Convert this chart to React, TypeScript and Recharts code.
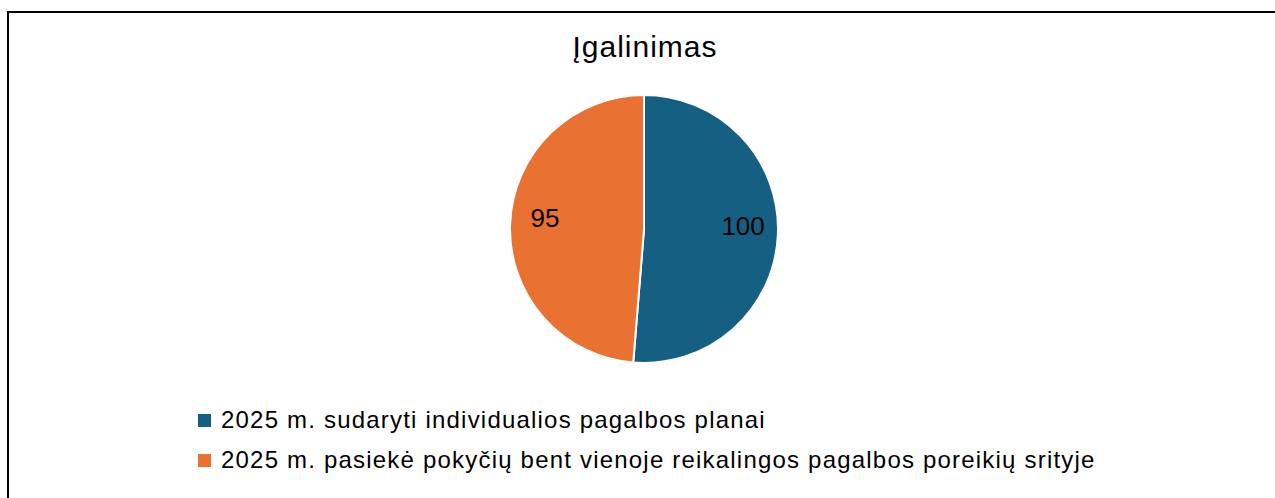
import React from 'react';
import { PieChart, Pie, Cell, Legend } from 'recharts';

const categories = [
    '2025 m. sudaryti individualios pagalbos planai',
    '2025 m. pasiekė pokyčių bent vienoje reikalingos pagalbos poreikių srityje',
];
const values = [100, 95];
const colors = ['#156082', '#E97132'];

const data = categories.map((name, i) => ({ name, value: values[i] }));

const FONT = '"Liberation Sans", Arial, sans-serif';
const RADIAN = Math.PI / 180;

// eslint-disable-next-line @typescript-eslint/no-explicit-any
const renderLabel = (props: any) => {
    const { cx, cy, midAngle, outerRadius, value } = props;
    const r = outerRadius * 0.74;
    const x = cx + r * Math.cos(-midAngle * RADIAN);
    const y = cy + r * Math.sin(-midAngle * RADIAN) - 7;
    return (
        <text x={x} y={y} fill="#000" textAnchor="middle" dominantBaseline="central" fontSize={26} fontFamily={FONT}>
            {value}
        </text>
    );
};

// legend keeps the data order (recharts would sort it otherwise)
const renderLegend = () => (
    <div style={{ fontFamily: FONT, fontSize: 24, letterSpacing: 1.2, color: '#000' }}>
        {data.map((d, i) => (
            <div key={d.name} style={{ display: 'flex', alignItems: 'center', height: 40 }}>
                <span style={{ width: 13, height: 13, background: colors[i], marginRight: 10, display: 'inline-block', flex: 'none' }} />
                <span style={{ whiteSpace: 'nowrap' }}>{d.name}</span>
            </div>
        ))}
    </div>
);

export default function App() {
    return (
        <div style={{ position: 'fixed', left: 0, top: 0, width: 1275, height: 498, overflow: 'hidden', background: '#fff' }}>
            <div style={{ position: 'absolute', left: 7, top: 11, width: 1400, height: 600, border: '2px solid #000' }} />
            <div style={{ position: 'absolute', left: 0, top: 30, width: 1290, textAlign: 'center', fontFamily: FONT, fontSize: 30, letterSpacing: 1, color: '#000' }}>
                Įgalinimas
            </div>
            <div style={{ position: 'absolute', left: 0, top: 0 }}>
                <PieChart width={1275} height={498} margin={{ top: 0, right: 0, bottom: 0, left: 0 }}>
                    <Pie
                        data={data}
                        dataKey="value"
                        nameKey="name"
                        cx={644}
                        cy={229}
                        outerRadius={134}
                        startAngle={90}
                        endAngle={-270}
                        stroke="#fff"
                        strokeWidth={2}
                        label={renderLabel}
                        labelLine={false}
                        isAnimationActive={false}
                    >
                        {data.map((d, i) => (
                            <Cell key={d.name} fill={colors[i]} />
                        ))}
                    </Pie>
                    <Legend
                        content={renderLegend}
                        layout="vertical"
                        wrapperStyle={{ position: 'absolute', left: 198, top: 400, width: 1000 }}
                    />
                </PieChart>
            </div>
        </div>
    );
}
